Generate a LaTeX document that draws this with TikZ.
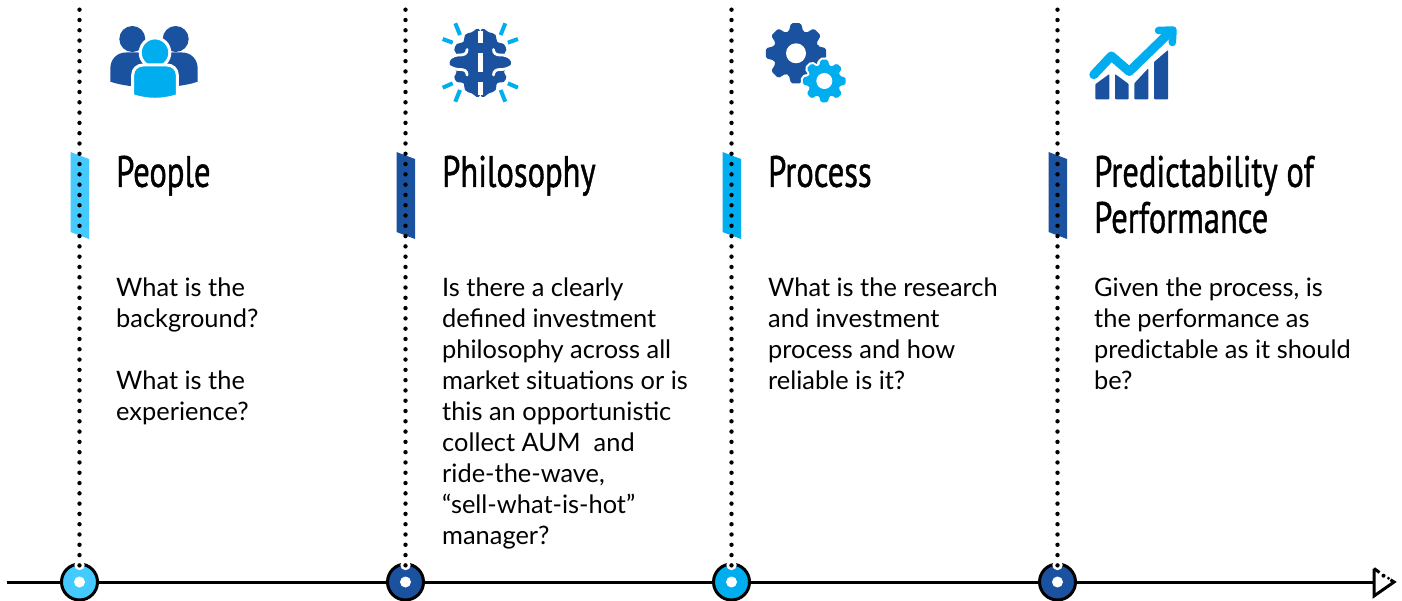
\documentclass[tikz,border=0pt]{standalone}
\usepackage{fontspec}
\setmainfont{Lato}
\newfontfamily\titlefont[FakeStretch=0.74,FakeBold=0.9]{PT Sans}
\usetikzlibrary{calc}
\definecolor{navy}{HTML}{1A52A0}
\definecolor{sky}{HTML}{00AEEF}
\definecolor{pale}{HTML}{45CAFF}
\tikzset{
  x=1pt,y=-1pt,
  hub/.style={circle,draw=black,line width=3pt,minimum size=36pt,inner sep=0pt},
  hole/.style={circle,fill=white,minimum size=11pt,inner sep=0pt},
  dots/.style={line width=4.4pt,line cap=round,dash pattern=on 0pt off 10.29pt},
  axis/.style={line width=3pt,draw=black},
  ttl/.style={anchor=north west,inner sep=0pt,align=left,text=black,font=\titlefont\fontsize{44}{46}\selectfont},
  body/.style={anchor=north west,inner sep=0pt,align=left,text=black,font=\fontsize{25.4}{31}\selectfont},
  ray/.style={draw=sky,line width=4pt},
}
\newcommand{\gearfill}[3]{% root, tip, options
  \path[#3,rounded corners=1.6pt] (-18:#1)
    foreach \a in {0,45,...,315}{ -- (\a-18:#1) -- (\a-9.5:#2) -- (\a+9.5:#2) -- (\a+18:#1) } -- cycle;
}
\newcommand{\bartag}[2]{%
  \fill[#2] (#1-9,152) -- (#1+9.5,159) -- (#1+9.5,239) -- (#1-9,232) -- cycle;
}
\begin{document}
\begin{tikzpicture}
\useasboundingbox (0,0) rectangle (1402,601);
% tags
\bartag{79.5}{pale}
\bartag{405.5}{navy}
\bartag{731.5}{sky}
\bartag{1057.5}{navy}
% axis
\coordinate (start) at (6.5,582);
\coordinate (tipl) at (1374,582);
\node[hub,fill=pale] (c1) at (79.5,582) {};
\node[hub,fill=navy] (c2) at (405.5,582) {};
\node[hub,fill=sky] (c3) at (731.5,582) {};
\node[hub,fill=navy] (c4) at (1057.5,582) {};
\draw[axis] (start) -- (c1) (c1) -- (c2) (c2) -- (c3) (c3) -- (c4) (c4) -- (tipl);
\node[hole] (h1) at (c1) {};
\node[hole] (h2) at (c2) {};
\node[hole] (h3) at (c3) {};
\node[hole] (h4) at (c4) {};
% arrow tip
\coordinate (ta) at (1374,568.5);
\coordinate (tb) at (1394,582);
\coordinate (tc) at (1374,596);
\draw[line width=3pt,line join=miter] (ta) -- (tc) -- (tb) -- (1390.5,579.8);
\draw[line width=3pt] (ta) -- (1379.5,572.5);
\fill (1383.5,575.7) circle (2);
\fill (1388.5,578.3) circle (1.6);
% dotted verticals
\foreach \i/\x in {1/79.5,2/405.5,3/731.5,4/1057.5}{
  \coordinate (t\i) at (\x,9.7);
  \fill[white] (\x,565) circle (5.2);
  \draw[dots] (t\i) -- (\x,567);
}
% people icon
\fill[navy] (132.3,39) circle (13);
\fill[navy] (175.7,39) circle (13);
\fill[navy] (110.3,81.7) -- (110.3,69) .. controls (110.3,59) and (117,52.5) .. (126,52.5) -- (182,52.5) .. controls (191,52.5) and (197.7,59) .. (197.7,69) -- (197.7,81.7) .. controls (191,84) and (185,85) .. (178,86) -- (130,86) .. controls (123,85) and (117,84) .. (110.3,81.7) -- cycle;
\fill[sky,draw=white,line width=3pt] (155,52.7) circle (14.8);
\fill[sky,draw=white,line width=3pt] (132.7,95.7) -- (132.7,75) .. controls (132.7,69) and (137.5,65) .. (143,65) -- (167,65) .. controls (172.5,65) and (177.3,69) .. (177.3,75) -- (177.3,95.7) .. controls (162,100.5) and (148,100.5) .. (132.7,95.7) -- cycle;
% brain icon
\begin{scope}[shift={(480.3,0)}]
  \foreach \s in {1,-1}{
    \begin{scope}[xscale=\s]
      \fill[navy] plot[smooth cycle,tension=0.55] coordinates {(0,33) (-8.7,32.3) (-15.3,35) (-16.8,41.7) (-23.7,44.3) (-26,50) (-23.7,55) (-29.7,60) (-30.3,65) (-23.7,71.7) (-26,76.7) (-23.7,81.7) (-16.8,83.3) (-15.3,90) (-8.7,93.3) (0,93)};
      \draw[white,line width=2.8pt,line cap=round] (-13.2,49.5) .. controls (-13.2,53.5) and (-16,55) .. (-20,55) .. controls (-24,54.8) and (-27,56) .. (-31,58);
      \draw[white,line width=2.8pt,line cap=round] (-13.2,75) .. controls (-13.2,71) and (-16,69.5) .. (-20,69.5) .. controls (-24,69.7) and (-27,68.5) .. (-31,66.5);
    \end{scope}
  }
  \fill[white] (-2.7,31) rectangle (2.7,43.5);
  \fill[white] (-2.7,53.5) rectangle (2.7,72);
  \fill[white] (-2.7,82) rectangle (2.7,95);
  \draw[ray] (-25,23.3) -- (-20.3,35);
  \draw[ray] (-37.6,39) -- (-27.6,42.7);
  \draw[ray] (25,23.3) -- (20.3,35);
  \draw[ray] (37.6,39) -- (27.6,42.7);
  \draw[ray] (-37.6,87.7) -- (-27.6,83.3);
  \draw[ray] (-25,101.7) -- (-20.3,90);
  \draw[ray] (37.6,87.7) -- (27.6,83.3);
  \draw[ray] (25,101.7) -- (20.3,90);
\end{scope}
% gears icon
\begin{scope}[shift={(796,53.3)}]
  \gearfill{23}{30.5}{fill=navy}
  \fill[white] (0,0) circle (10);
\end{scope}
\begin{scope}[shift={(824.3,81)}]
  \gearfill{16}{21.7}{fill=white,draw=white,line width=4pt}
  \gearfill{16}{21.7}{fill=sky}
  \fill[white] (0,0) circle (8);
\end{scope}
% chart icon
\fill[navy,rounded corners=0.8pt] (1095.3,84.3) -- (1109.3,74) -- (1109.3,99.3) -- (1095.3,99.3) -- cycle;
\fill[navy,rounded corners=0.8pt] (1115,74) -- (1128.7,84) -- (1128.7,99.3) -- (1115,99.3) -- cycle;
\fill[navy,rounded corners=0.8pt] (1134.3,83.3) -- (1148.3,68.3) -- (1148.3,99.3) -- (1134.3,99.3) -- cycle;
\fill[navy,rounded corners=0.8pt] (1154,62) -- (1168,50) -- (1168,99.3) -- (1154,99.3) -- cycle;
\draw[sky,line width=9pt,line cap=round,line join=round] (1093.8,74.7) -- (1111.3,56) -- (1129.3,71.5) -- (1170,32);
\draw[sky,line width=7.5pt,line cap=round,line join=round] (1158.5,30.5) -- (1173,30) -- (1172.3,42.5);
% titles
\node[ttl] (t-people) at (116,155.5) {People};
\node[ttl] (t-phil) at (442,155.5) {Philosophy};
\node[ttl] (t-proc) at (768,155.5) {Process};
\node[ttl] (t-pred) at (1094,155.5) {Predictability of\\Performance};
% body
\node[body] (b-people) at (116,277.7) {What is the\\background?\\[31pt]What is the\\experience?};
\node[body] (b-phil) at (442,277.7) {Is there a clearly\\defined investment\\philosophy across all\\market situations or is\\this an opportunistic\\collect AUM~ and\\ride-the-wave,\\“sell-what-is-hot”\\manager?};
\node[body] (b-proc) at (768,277.7) {What is the research\\and investment\\process and how\\reliable is it?};
\node[body] (b-pred) at (1094,277.7) {Given the process, is\\the performance as\\predictable as it should\\be?};
\end{tikzpicture}
\end{document}
